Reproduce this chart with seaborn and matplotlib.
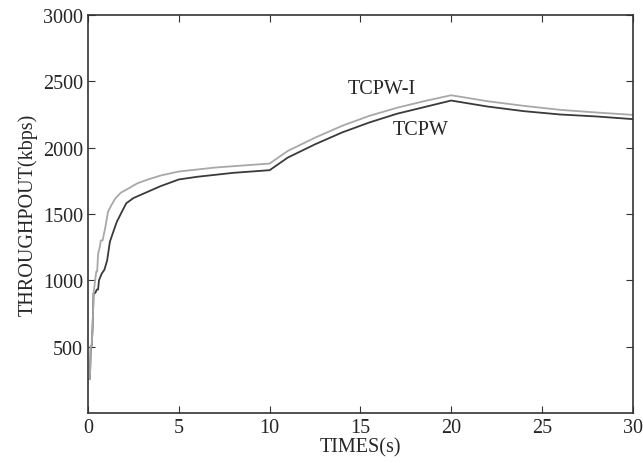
import numpy as np
import pandas as pd
import matplotlib
matplotlib.use("Agg")
import matplotlib.pyplot as plt
import seaborn as sns

# TCPW-I (upper, light grey)
t_tcpwi = [0.05, 0.1, 0.15, 0.2, 0.25, 0.3, 0.38, 0.45, 0.5, 0.55, 0.65, 0.7, 0.8, 0.95, 1.1, 1.3, 1.5, 1.8, 2.2, 2.7, 3.3,
           4.0, 5.0, 6.0, 7.0, 8.0, 9.0, 10.0, 11.0, 12.5, 14.0, 15.5, 17.0, 18.5, 20.0,
           22.0, 24.0, 26.0, 28.0, 30.0]
v_tcpwi = [257, 257, 506, 506, 650, 900, 990, 1065, 1065, 1200, 1254, 1300, 1300, 1400, 1518, 1570, 1617, 1660, 1690, 1730, 1760,
           1790, 1820, 1835, 1850, 1860, 1870, 1880, 1975, 2075, 2165, 2240, 2300, 2350, 2395,
           2350, 2315, 2285, 2265, 2247]

# TCPW (lower, dark)
t_tcpw = [0.05, 0.1, 0.15, 0.2, 0.25, 0.3, 0.4, 0.48, 0.55, 0.6, 0.75, 0.9, 1.05, 1.2, 1.4, 1.58, 1.8, 2.1, 2.5, 3.0,
          4.0, 5.0, 6.0, 7.0, 8.0, 9.0, 10.0, 11.0, 12.5, 14.0, 15.5, 17.0, 18.5, 20.0,
          22.0, 24.0, 26.0, 28.0, 30.0]
v_tcpw = [257, 257, 506, 506, 650, 900, 905, 930, 930, 1000, 1050, 1080, 1150, 1290, 1370, 1440, 1500, 1580, 1620, 1650,
          1710, 1760, 1780, 1795, 1810, 1820, 1830, 1925, 2025, 2115, 2190, 2255, 2305, 2355,
          2310, 2275, 2250, 2235, 2215]

# dark drawn first so the grey line sits on top where they overlap
df = pd.concat([
    pd.DataFrame({"t": t_tcpw, "v": v_tcpw, "s": "TCPW"}),
    pd.DataFrame({"t": t_tcpwi, "v": v_tcpwi, "s": "TCPW-I"}),
])

sns.set_style("ticks")
plt.rcParams["font.family"] = ["Liberation Serif", "DejaVu Serif"]

fig = plt.figure(figsize=(6.43, 4.64), dpi=100)
ax = fig.add_axes([0.137, 0.108, 0.847, 0.8575])

sns.lineplot(data=df, x="t", y="v", hue="s", palette={"TCPW-I": "#a8a8a8", "TCPW": "#3a3a3a"},
             legend=False, ax=ax, linewidth=1.3, estimator=None, sort=False)

ax.set_xlim(0, 30)
ax.set_ylim(0, 3000)
ax.set_xticks([0, 5, 10, 15, 20, 25, 30])
ax.set_yticks([500, 1000, 1500, 2000, 2500, 3000])
ax.tick_params(direction="in", top=True, right=True, labelsize=14.5, length=5, color="#333333")
for sp in ax.spines.values():
    sp.set_color("#333333")
    sp.set_linewidth(1.2)

ax.set_xlabel("TIMES(s)", fontsize=14.5, labelpad=0)
ax.set_ylabel("THROUGHPOUT(kbps)", fontsize=14.5, labelpad=4)

ax.text(16.2, 2449, "TCPW-I", fontsize=14.5, ha="center", va="center")
ax.text(18.3, 2139, "TCPW", fontsize=14.5, ha="center", va="center")

fig.savefig("out.png", dpi=100)
